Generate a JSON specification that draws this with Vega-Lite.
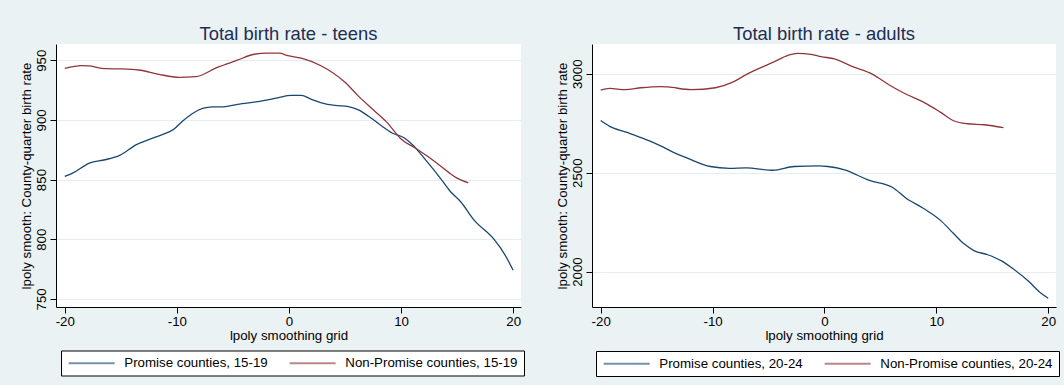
{
  "$schema": "https://vega.github.io/schema/vega-lite/v6.json",
  "background": "#eaf2f3",
  "padding": {"left": 19, "top": 24, "right": 6, "bottom": 8},
  "spacing": 30,
  "datasets": {
    "teens": [
      {"grid": -20, "rate": 852.6, "series": "Promise counties, 15-19"},
      {"grid": -19.3, "rate": 855.4, "series": "Promise counties, 15-19"},
      {"grid": -17.8, "rate": 863.8, "series": "Promise counties, 15-19"},
      {"grid": -16.4, "rate": 866.6, "series": "Promise counties, 15-19"},
      {"grid": -15.1, "rate": 870.3, "series": "Promise counties, 15-19"},
      {"grid": -13.6, "rate": 879.3, "series": "Promise counties, 15-19"},
      {"grid": -12.5, "rate": 883.5, "series": "Promise counties, 15-19"},
      {"grid": -11.3, "rate": 887.7, "series": "Promise counties, 15-19"},
      {"grid": -10.3, "rate": 891.9, "series": "Promise counties, 15-19"},
      {"grid": -9.5, "rate": 898.9, "series": "Promise counties, 15-19"},
      {"grid": -8.6, "rate": 905.4, "series": "Promise counties, 15-19"},
      {"grid": -7.7, "rate": 909.6, "series": "Promise counties, 15-19"},
      {"grid": -6.8, "rate": 910.9, "series": "Promise counties, 15-19"},
      {"grid": -5.85, "rate": 910.9, "series": "Promise counties, 15-19"},
      {"grid": -4.6, "rate": 913.0, "series": "Promise counties, 15-19"},
      {"grid": -2.5, "rate": 915.7, "series": "Promise counties, 15-19"},
      {"grid": -1.0, "rate": 918.5, "series": "Promise counties, 15-19"},
      {"grid": 0.2, "rate": 920.5, "series": "Promise counties, 15-19"},
      {"grid": 1.1, "rate": 920.5, "series": "Promise counties, 15-19"},
      {"grid": 2.0, "rate": 917.2, "series": "Promise counties, 15-19"},
      {"grid": 2.9, "rate": 914.3, "series": "Promise counties, 15-19"},
      {"grid": 4.1, "rate": 912.1, "series": "Promise counties, 15-19"},
      {"grid": 5.3, "rate": 911.2, "series": "Promise counties, 15-19"},
      {"grid": 6.2, "rate": 908.4, "series": "Promise counties, 15-19"},
      {"grid": 7.1, "rate": 903.1, "series": "Promise counties, 15-19"},
      {"grid": 8.3, "rate": 894.7, "series": "Promise counties, 15-19"},
      {"grid": 9.2, "rate": 889.0, "series": "Promise counties, 15-19"},
      {"grid": 10.3, "rate": 884.8, "series": "Promise counties, 15-19"},
      {"grid": 11.0, "rate": 879.3, "series": "Promise counties, 15-19"},
      {"grid": 12.3, "rate": 865.2, "series": "Promise counties, 15-19"},
      {"grid": 13.5, "rate": 851.2, "series": "Promise counties, 15-19"},
      {"grid": 14.4, "rate": 840.0, "series": "Promise counties, 15-19"},
      {"grid": 15.3, "rate": 831.6, "series": "Promise counties, 15-19"},
      {"grid": 16.5, "rate": 816.2, "series": "Promise counties, 15-19"},
      {"grid": 18.3, "rate": 799.8, "series": "Promise counties, 15-19"},
      {"grid": 19.2, "rate": 788.0, "series": "Promise counties, 15-19"},
      {"grid": 20, "rate": 774.0, "series": "Promise counties, 15-19"},
      {"grid": -20, "rate": 943.2, "series": "Non-Promise counties, 15-19"},
      {"grid": -18.5, "rate": 945.5, "series": "Non-Promise counties, 15-19"},
      {"grid": -17.8, "rate": 945.2, "series": "Non-Promise counties, 15-19"},
      {"grid": -16.4, "rate": 942.9, "series": "Non-Promise counties, 15-19"},
      {"grid": -14.9, "rate": 942.7, "series": "Non-Promise counties, 15-19"},
      {"grid": -13.4, "rate": 941.8, "series": "Non-Promise counties, 15-19"},
      {"grid": -11.6, "rate": 938.2, "series": "Non-Promise counties, 15-19"},
      {"grid": -9.8, "rate": 935.7, "series": "Non-Promise counties, 15-19"},
      {"grid": -8.3, "rate": 936.2, "series": "Non-Promise counties, 15-19"},
      {"grid": -6.45, "rate": 943.8, "series": "Non-Promise counties, 15-19"},
      {"grid": -4.6, "rate": 950.0, "series": "Non-Promise counties, 15-19"},
      {"grid": -3.1, "rate": 955.0, "series": "Non-Promise counties, 15-19"},
      {"grid": -1.9, "rate": 955.9, "series": "Non-Promise counties, 15-19"},
      {"grid": -0.86, "rate": 955.9, "series": "Non-Promise counties, 15-19"},
      {"grid": -0.1, "rate": 953.9, "series": "Non-Promise counties, 15-19"},
      {"grid": 1.1, "rate": 951.7, "series": "Non-Promise counties, 15-19"},
      {"grid": 2.9, "rate": 945.2, "series": "Non-Promise counties, 15-19"},
      {"grid": 5.0, "rate": 931.5, "series": "Non-Promise counties, 15-19"},
      {"grid": 6.2, "rate": 919.9, "series": "Non-Promise counties, 15-19"},
      {"grid": 7.5, "rate": 908.7, "series": "Non-Promise counties, 15-19"},
      {"grid": 8.7, "rate": 898.3, "series": "Non-Promise counties, 15-19"},
      {"grid": 10.0, "rate": 884.0, "series": "Non-Promise counties, 15-19"},
      {"grid": 11.4, "rate": 875.6, "series": "Non-Promise counties, 15-19"},
      {"grid": 13.0, "rate": 865.2, "series": "Non-Promise counties, 15-19"},
      {"grid": 14.25, "rate": 856.0, "series": "Non-Promise counties, 15-19"},
      {"grid": 15.0, "rate": 851.2, "series": "Non-Promise counties, 15-19"},
      {"grid": 16.0, "rate": 847.3, "series": "Non-Promise counties, 15-19"}
    ],
    "adults": [
      {"grid": -20, "rate": 2763, "series": "Promise counties, 20-24"},
      {"grid": -19.2, "rate": 2734, "series": "Promise counties, 20-24"},
      {"grid": -17.65, "rate": 2703, "series": "Promise counties, 20-24"},
      {"grid": -16.0, "rate": 2668, "series": "Promise counties, 20-24"},
      {"grid": -14.6, "rate": 2634, "series": "Promise counties, 20-24"},
      {"grid": -13.4, "rate": 2600, "series": "Promise counties, 20-24"},
      {"grid": -12.2, "rate": 2572, "series": "Promise counties, 20-24"},
      {"grid": -10.2, "rate": 2531, "series": "Promise counties, 20-24"},
      {"grid": -8.5, "rate": 2522, "series": "Promise counties, 20-24"},
      {"grid": -7.0, "rate": 2524, "series": "Promise counties, 20-24"},
      {"grid": -4.6, "rate": 2512, "series": "Promise counties, 20-24"},
      {"grid": -2.7, "rate": 2531, "series": "Promise counties, 20-24"},
      {"grid": -0.5, "rate": 2534, "series": "Promise counties, 20-24"},
      {"grid": 0.3, "rate": 2531, "series": "Promise counties, 20-24"},
      {"grid": 1.8, "rate": 2514, "series": "Promise counties, 20-24"},
      {"grid": 3.95, "rate": 2462, "series": "Promise counties, 20-24"},
      {"grid": 6.1, "rate": 2425, "series": "Promise counties, 20-24"},
      {"grid": 7.3, "rate": 2371, "series": "Promise counties, 20-24"},
      {"grid": 8.83, "rate": 2320, "series": "Promise counties, 20-24"},
      {"grid": 10.35, "rate": 2260, "series": "Promise counties, 20-24"},
      {"grid": 11.56, "rate": 2191, "series": "Promise counties, 20-24"},
      {"grid": 12.48, "rate": 2140, "series": "Promise counties, 20-24"},
      {"grid": 13.4, "rate": 2105, "series": "Promise counties, 20-24"},
      {"grid": 14.6, "rate": 2085, "series": "Promise counties, 20-24"},
      {"grid": 15.83, "rate": 2054, "series": "Promise counties, 20-24"},
      {"grid": 16.74, "rate": 2019, "series": "Promise counties, 20-24"},
      {"grid": 18.27, "rate": 1950, "series": "Promise counties, 20-24"},
      {"grid": 19.18, "rate": 1899, "series": "Promise counties, 20-24"},
      {"grid": 20, "rate": 1865, "series": "Promise counties, 20-24"},
      {"grid": -20, "rate": 2917, "series": "Non-Promise counties, 20-24"},
      {"grid": -19.2, "rate": 2926, "series": "Non-Promise counties, 20-24"},
      {"grid": -17.8, "rate": 2919, "series": "Non-Promise counties, 20-24"},
      {"grid": -16.4, "rate": 2929, "series": "Non-Promise counties, 20-24"},
      {"grid": -14.6, "rate": 2935, "series": "Non-Promise counties, 20-24"},
      {"grid": -14.0, "rate": 2933, "series": "Non-Promise counties, 20-24"},
      {"grid": -11.9, "rate": 2919, "series": "Non-Promise counties, 20-24"},
      {"grid": -9.74, "rate": 2929, "series": "Non-Promise counties, 20-24"},
      {"grid": -8.2, "rate": 2957, "series": "Non-Promise counties, 20-24"},
      {"grid": -7.0, "rate": 2995, "series": "Non-Promise counties, 20-24"},
      {"grid": -4.57, "rate": 3058, "series": "Non-Promise counties, 20-24"},
      {"grid": -3.2, "rate": 3094, "series": "Non-Promise counties, 20-24"},
      {"grid": -2.44, "rate": 3103, "series": "Non-Promise counties, 20-24"},
      {"grid": -1.2, "rate": 3098, "series": "Non-Promise counties, 20-24"},
      {"grid": -0.3, "rate": 3086, "series": "Non-Promise counties, 20-24"},
      {"grid": 0.9, "rate": 3075, "series": "Non-Promise counties, 20-24"},
      {"grid": 2.4, "rate": 3038, "series": "Non-Promise counties, 20-24"},
      {"grid": 4.27, "rate": 2998, "series": "Non-Promise counties, 20-24"},
      {"grid": 5.8, "rate": 2943, "series": "Non-Promise counties, 20-24"},
      {"grid": 7.0, "rate": 2905, "series": "Non-Promise counties, 20-24"},
      {"grid": 9.1, "rate": 2849, "series": "Non-Promise counties, 20-24"},
      {"grid": 10.35, "rate": 2806, "series": "Non-Promise counties, 20-24"},
      {"grid": 11.6, "rate": 2761, "series": "Non-Promise counties, 20-24"},
      {"grid": 12.8, "rate": 2747, "series": "Non-Promise counties, 20-24"},
      {"grid": 14.3, "rate": 2742, "series": "Non-Promise counties, 20-24"},
      {"grid": 16.0, "rate": 2727, "series": "Non-Promise counties, 20-24"}
    ]
  },
  "hconcat": [
    {
      "width": 465,
      "height": 263,
      "title": "Total birth rate - teens",
      "data": {"name": "teens"},
      "mark": {"type": "line", "strokeWidth": 1.3, "interpolate": "monotone"},
      "encoding": {
        "x": {
          "field": "grid", "type": "quantitative",
          "scale": {"domain": [-20.78, 20.7], "nice": false, "zero": false},
          "axis": {"values": [-20, -10, 0, 10, 20], "title": "lpoly smoothing grid"}
        },
        "y": {
          "field": "rate", "type": "quantitative",
          "scale": {"domain": [743.2, 963.6], "nice": false, "zero": false},
          "axis": {"values": [750, 800, 850, 900, 950], "title": "lpoly smooth: County-quarter birth rate"}
        },
        "color": {
          "field": "series", "type": "nominal",
          "scale": {"domain": ["Promise counties, 15-19", "Non-Promise counties, 15-19"], "range": ["#1a476f", "#90353b"]},
          "legend": {"orient": "none", "legendX": 5, "legendY": 306.5}
        }
      }
    },
    {
      "width": 464,
      "height": 263,
      "title": "Total birth rate - adults",
      "data": {"name": "adults"},
      "mark": {"type": "line", "strokeWidth": 1.3, "interpolate": "monotone"},
      "encoding": {
        "x": {
          "field": "grid", "type": "quantitative",
          "scale": {"domain": [-20.78, 20.7], "nice": false, "zero": false},
          "axis": {"values": [-20, -10, 0, 10, 20], "title": "lpoly smoothing grid"}
        },
        "y": {
          "field": "rate", "type": "quantitative",
          "scale": {"domain": [1821, 3150], "nice": false, "zero": false},
          "axis": {"values": [2000, 2500, 3000], "title": "lpoly smooth: County-quarter birth rate"}
        },
        "color": {
          "field": "series", "type": "nominal",
          "scale": {"domain": ["Promise counties, 20-24", "Non-Promise counties, 20-24"], "range": ["#1a476f", "#90353b"]},
          "legend": {"orient": "none", "legendX": 4, "legendY": 307}
        }
      }
    }
  ],
  "resolve": {
    "scale": {"color": "independent", "x": "independent", "y": "independent"},
    "legend": {"color": "independent"}
  },
  "config": {
    "font": "Liberation Sans",
    "view": {"stroke": null, "fill": "#ffffff"},
    "title": {"fontSize": 18.4, "fontWeight": "normal", "color": "#1e2d53", "baseline": "alphabetic", "offset": 1, "anchor": "middle"},
    "axis": {
      "labelFontSize": 13.3, "titleFontSize": 13.3, "titleFontWeight": "normal",
      "labelColor": "#000000", "titleColor": "#000000",
      "domainColor": "#000000", "tickColor": "#000000", "tickSize": 6,
      "labelPadding": 2, "labelExpr": "'' + datum.value"
    },
    "axisX": {"grid": false, "labelPadding": 1, "titlePadding": 1},
    "axisY": {"labelAngle": -90, "grid": true, "gridColor": "#e4edf0", "titlePadding": 1},
    "legend": {
      "direction": "horizontal", "columns": 2, "title": null,
      "symbolType": "M-1,0H8.2", "symbolSize": 100, "symbolStrokeWidth": 2, "symbolOpacity": 0.6,
      "labelFontSize": 13.3, "labelColor": "#000000", "labelOffset": 44, "labelLimit": 400,
      "columnPadding": 17, "padding": 6,
      "strokeColor": "#000000", "fillColor": "#ffffff"
    }
  }
}
